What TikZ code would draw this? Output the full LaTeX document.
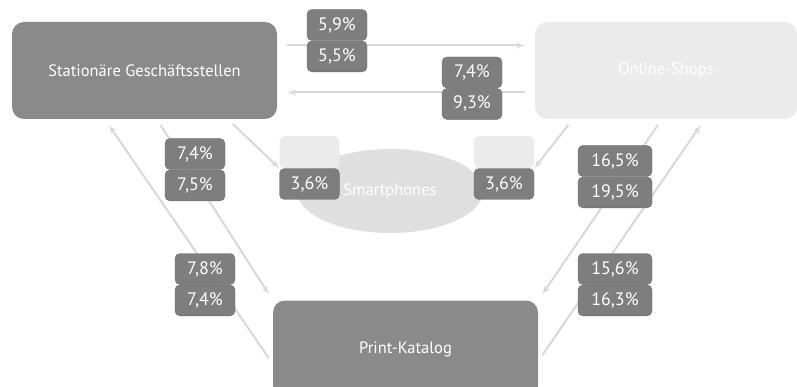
\documentclass[tikz,border=0pt]{standalone}
\usepackage{fontspec}
\setmainfont{PT Sans}
\usetikzlibrary{positioning, shapes.geometric, arrows, backgrounds}

\definecolor{boxgray}{HTML}{8A8A8A}
\definecolor{pctgray}{HTML}{7E7E7E}
\definecolor{palegray}{HTML}{EBEBEB}
\definecolor{linegray}{HTML}{D8D8D8}

\begin{document}
\begin{tikzpicture}[x=1pt, y=-1pt, node distance=0pt]
  \tikzstyle{channel} = [rectangle, fill=boxgray, text=white, rounded corners=12pt,
      minimum width=265pt, minimum height=97pt, font=\fontsize{16.5}{18}\selectfont]
  \tikzstyle{pale} = [channel, fill=palegray]
  \tikzstyle{pct} = [rectangle, draw=pctgray!85!black, fill=pctgray, text=white,
      rounded corners=5pt, minimum width=60pt, minimum height=31pt, inner sep=0pt,
      font=\fontsize{18}{20}\selectfont]
  \tikzstyle{ghost} = [rectangle, fill=palegray, rounded corners=5pt,
      minimum width=60pt, minimum height=32pt]
  \tikzstyle{line} = [draw=linegray, line width=2pt, -latex', shorten >=7pt, shorten <=7pt]

  \useasboundingbox (0,0) rectangle (797,387);

  % channels
  \node [channel] (stat) at (144.5,70.5) {Stationäre Geschäftsstellen};
  \node [pale, minimum width=262pt] (online) at (666,70.5) {Online-Shops};
  \node [channel] (print) at (405.5,349) {Print-Katalog};
  \node [ellipse, fill=palegray!95!black, text=white, minimum width=186pt,
      minimum height=84pt, font=\fontsize{16.5}{18}\selectfont] (smart) at (390,191) {Smartphones};

  % shares
  \node [pct] (s1) at (337,25) {5,9\%};
  \node [pct, below=of s1] (s2) {5,5\%};
  \node [pct] (o1) at (472,72.5) {7,4\%};
  \node [pct, below=of o1] (o2) {9,3\%};
  \node [pct] (sp1) at (195,154) {7,4\%};
  \node [pct, below=of sp1] (sp2) {7,5\%};
  \node [pct] (ps1) at (205,269) {7,8\%};
  \node [pct, below=of ps1] (ps2) {7,4\%};
  \node [pct] (sm1) at (309.5,184) {3,6\%};
  \node [ghost, above=of sm1] (ghostl) {};
  \node [pct] (sm2) at (504,184) {3,6\%};
  \node [ghost, above=of sm2] (ghostr) {};
  \node [pct, minimum width=74pt] (op1) at (615,161) {16,5\%};
  \node [pct, minimum width=74pt, below=of op1] (op2) {19,5\%};
  \node [pct, minimum width=74pt] (po1) at (615,269) {15,6\%};
  \node [pct, minimum width=74pt, below=of po1] (po2) {16,3\%};

  \begin{scope}[on background layer]
    \path [line, shorten >=10pt, shorten <=10pt] ([yshift=25pt]stat.east) -- ([yshift=25pt]online.west);
    \path [line, shorten >=10pt, shorten <=10pt] ([yshift=-22pt]online.west) -- ([yshift=-22pt]stat.east);
    \path [line] ([yshift=-15pt]print.west) -- ([xshift=93pt]stat.south west);
    \path [line] ([xshift=145pt]stat.south west) -- (print.north west);
    \path [line, shorten >=0pt] ([xshift=216pt]stat.south west) -- (ghostl.south west);
    \path [line, shorten >=0pt] ([xshift=38pt]online.south west) -- (ghostr.south east);
    \path [line] ([xshift=127pt]online.south west) -- (print.north east);
    \path [line] ([yshift=-12pt]print.east) -- ([xshift=170pt]online.south west);
  \end{scope}
\end{tikzpicture}
\end{document}
